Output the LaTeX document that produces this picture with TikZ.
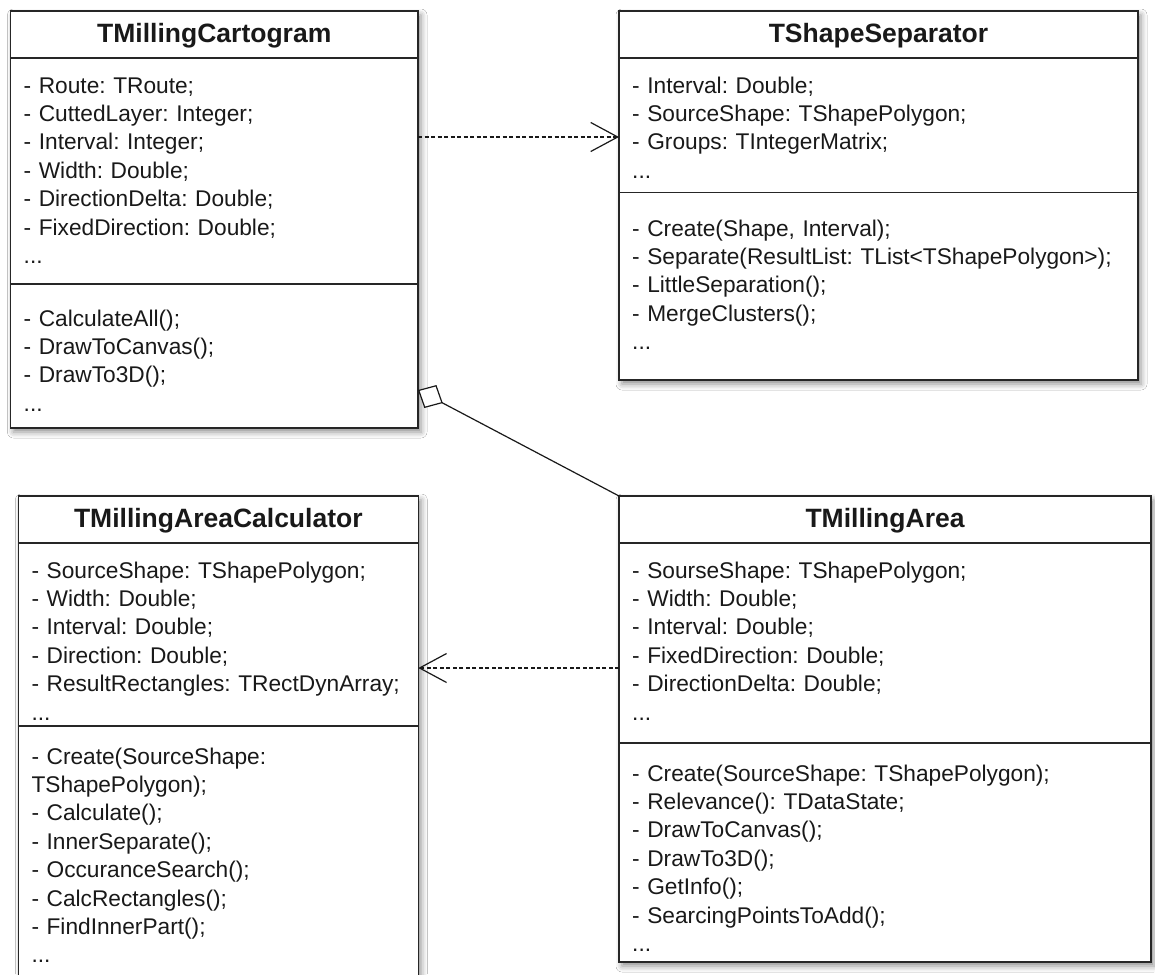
\documentclass[tikz,border=0pt]{standalone}
\usepackage{fontspec}
\setmainfont{Liberation Sans}
\usepackage{tikz}
\usetikzlibrary{arrows.meta}
\usetikzlibrary{calc}
\usetikzlibrary{shadows.blur}
\frenchspacing

\begin{document}
\begin{tikzpicture}[x=1pt, y=-1pt,
    classbox/.style={draw=black!85, fill=white, line width=1.2pt, anchor=north west, inner sep=0pt, outer sep=0pt,
      blur shadow={shadow xshift=3pt, shadow yshift=-4pt, shadow blur radius=6pt, shadow opacity=45}},
    classname/.style={anchor=base, inner sep=0pt, font=\fontsize{26.5}{30}\selectfont\bfseries, text=black!90},
    members/.style={anchor=base west, inner sep=0pt, align=left, text width=#1, font=\fontsize{22.7}{28.4}\selectfont\frenchspacing, text=black!90},
    sepline/.style={draw=black!85, line width=1.2pt},
    dep/.style={draw=black!90, line width=1.2pt, dash pattern=on 4pt off 2.5pt, -{Straight Barb[length=27pt, width=29pt]}},
    aggr/.style={draw=black!90, line width=1.2pt, {Diamond[length=28pt, width=26pt, fill=white]}-}]
			\clip (0,0) rectangle (1155,974);
			\fill[white] (0,0) rectangle (1155,974);

			\node[classbox, minimum width=407.5pt, minimum height=417pt] (cart) at (10.5,11) {};
			\node[classname] (cartname) at ($(cart.north)+(0,31.5)$) {TMillingCartogram};
			\draw[sepline] ($(cart.north west)+(0,47)$) -- ($(cart.north east)+(0,47)$);
			\draw[sepline] ($(cart.north west)+(0,273)$) -- ($(cart.north east)+(0,273)$);
			\node[members=381pt] (cartattr) at ($(cart.north west)+(13,82)$) {- Route: TRoute;\\ - CuttedLayer: Integer;\\ - Interval: Integer;\\ - Width: Double;\\ - DirectionDelta: Double;\\ - FixedDirection: Double;\\ ...};
			\node[members=381pt] (cartops) at ($(cart.north west)+(13,315)$) {- CalculateAll();\\ - DrawToCanvas();\\ - DrawTo3D();\\ ...};

			\node[classbox, minimum width=519pt, minimum height=369pt] (separator) at (619,11) {};
			\node[classname] (separatorname) at ($(separator.north)+(0,31.5)$) {TShapeSeparator};
			\draw[sepline] ($(separator.north west)+(0,47)$) -- ($(separator.north east)+(0,47)$);
			\draw[sepline] ($(separator.north west)+(0,181.5)$) -- ($(separator.north east)+(0,181.5)$);
			\node[members=493pt] (separatorattr) at ($(separator.north west)+(13,82)$) {- Interval: Double;\\ - SourceShape: TShapePolygon;\\ - Groups: TIntegerMatrix;\\ ...};
			\node[members=493pt] (separatorops) at ($(separator.north west)+(13,225)$) {- Create(Shape, Interval);\\ - Separate(ResultList: TList<TShapePolygon>);\\ - LittleSeparation();\\ - MergeClusters();\\ ...};

			\node[classbox, minimum width=400pt, minimum height=500pt] (calc) at (18.3,496) {};
			\node[classname] (calcname) at ($(calc.north)+(0,31.5)$) {TMillingAreaCalculator};
			\draw[sepline] ($(calc.north west)+(0,47)$) -- ($(calc.north east)+(0,47)$);
			\draw[sepline] ($(calc.north west)+(0,230)$) -- ($(calc.north east)+(0,230)$);
			\node[members=374pt] (calcattr) at ($(calc.north west)+(13,82)$) {- SourceShape: TShapePolygon;\\ - Width: Double;\\ - Interval: Double;\\ - Direction: Double;\\ - ResultRectangles: TRectDynArray;\\ ...};
			\node[members=374pt] (calcops) at ($(calc.north west)+(13,268)$) {- Create(SourceShape:\\ TShapePolygon);\\ - Calculate();\\ - InnerSeparate();\\ - OccuranceSearch();\\ - CalcRectangles();\\ - FindInnerPart();\\ ...};

			\node[classbox, minimum width=532pt, minimum height=466pt] (area) at (619,496) {};
			\node[classname] (areaname) at ($(area.north)+(0,31.5)$) {TMillingArea};
			\draw[sepline] ($(area.north west)+(0,47)$) -- ($(area.north east)+(0,47)$);
			\draw[sepline] ($(area.north west)+(0,247)$) -- ($(area.north east)+(0,247)$);
			\node[members=506pt] (areaattr) at ($(area.north west)+(13,82)$) {- SourseShape: TShapePolygon;\\ - Width: Double;\\ - Interval: Double;\\ - FixedDirection: Double;\\ - DirectionDelta: Double;\\ ...};
			\node[members=506pt] (areaops) at ($(area.north west)+(13,285)$) {- Create(SourceShape: TShapePolygon);\\ - Relevance(): TDataState;\\ - DrawToCanvas();\\ - DrawTo3D();\\ - GetInfo();\\ - SearcingPointsToAdd();\\ ...};

			\coordinate (depA) at ($(cart.north east)+(0,126)$);
			\coordinate (depB) at ($(area.north west)+(0,172)$);
			\coordinate (aggA) at ($(cart.north east)+(0,379)$);
			\path
			(depA) edge[dep] (depA -| separator.west)
			(depB) edge[dep] (depB -| calc.east)
			(aggA) edge[aggr] (area.north west);
		\end{tikzpicture}
\end{document}
